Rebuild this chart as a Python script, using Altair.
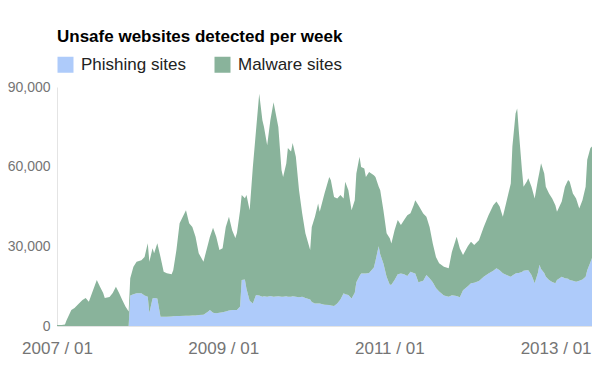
import altair as alt
import pandas as pd

# weeks since 2007-01-01
weeks = [0, 3, 5, 6, 9, 11, 13, 16, 18, 20, 22, 25, 27, 29, 30, 33, 35, 37, 39, 41, 43, 45,
         46, 48, 50, 53, 55, 57, 58, 60, 61, 63, 65, 67, 69, 72, 73, 75, 77, 81, 83, 85, 87, 89,
         92, 95, 96, 98, 100, 102, 104, 106, 108, 110, 112, 113, 115, 116, 118, 119, 121, 123,
         125, 127, 129, 130, 132, 134, 136, 139, 141, 142, 144, 145, 147, 148, 150, 152, 154,
         156, 159, 160, 162, 164, 165, 168, 171, 172, 174, 176, 178, 180, 181, 183, 185, 187,
         188, 190, 191, 193, 194, 196, 199, 200, 202, 203, 205, 207, 209, 210, 212, 214, 216,
         218, 220, 222, 224, 225, 227, 230, 232, 234, 236, 238, 240, 243, 246, 248, 251, 253,
         255, 258, 260, 262, 265, 268, 271, 274, 276, 278, 279, 280, 282, 285, 286, 288, 289,
         290, 292, 293, 295, 296, 298, 300, 302, 303, 304, 306, 307, 309, 311, 313, 314, 317,
         319, 321, 322, 324, 326, 328, 330, 332, 333, 335, 336]

phishing = [0, 0, 0, 0, 0, 0, 0, 0, 0, 0, 0, 0, 0, 0, 0, 0, 0, 0, 0, 0, 0, 0,
            11500, 12000, 12300, 12300, 11500, 11000, 4900, 10400, 10500, 10400, 3500, 3500,
            3500, 3600, 3700, 3800, 3800, 3900, 3900, 4000, 4000, 4100,
            4200, 5500, 6000, 5000, 4800, 5000, 5200, 5500, 5800, 6000, 6000, 6000, 7300, 17300,
            17500, 14000, 9500, 8500,
            11700, 11500, 11000, 11200, 11000, 11300, 11000, 11200, 11000, 11000, 11200, 11000,
            11000, 11200, 11000, 10800, 11000,
            10500, 10000, 9000, 8500, 8500, 8500, 8000, 7900, 7700, 7500, 8500, 10000, 12300,
            12000, 11700, 10400, 12500,
            16500, 18800, 19800, 19800, 19800, 20000, 22000, 24500, 30000, 27000, 23500, 18500,
            15500, 15500, 17300, 19500, 19800,
            19500, 18800, 20400, 20000, 19800, 16500, 17000, 19200, 18000, 16500, 14300, 13000,
            11500, 11000, 11600, 11300, 10800,
            13500, 15000, 16100, 16300, 16900, 18500, 19800, 20800, 21700, 21000, 20400, 19900,
            19300, 18500, 19000, 19800, 20000,
            20000, 20300, 20800, 21000, 21000, 19200, 16100, 20000, 23100, 21500, 20000, 18500,
            17300, 16600, 16100, 17300, 18500,
            18000, 17800, 17300, 17000, 16700, 17000, 17500, 18500, 21000, 24000, 25600]

malware = [400, 400, 600, 2200, 6000, 6800, 8000, 9800, 10500, 9100, 12400, 17300, 14800,
           12400, 10500, 10900, 12400, 14800, 12400, 9800, 7300, 5500,
           6500, 10300, 11900, 12500, 14500, 20200, 19300, 18900, 16900, 20800, 22500, 16900,
           16400, 15900, 17300, 24800, 34900, 39700, 34800, 33300, 29600, 23300,
           20000, 25700, 27500, 32000, 28800, 23600, 24100, 31800, 35300, 30100, 27100, 29000,
           36300, 32000, 30600, 35300, 34100, 51400,
           62000, 76000, 66500, 63700, 57100, 66200, 73300, 63700, 47700, 45100, 50000, 56000,
           54700, 57700, 52700, 40300, 31400,
           24400, 18600, 28300, 32600, 37600, 34500, 41900, 48200, 47200, 41100, 39500, 39300,
           35700, 42300, 39400, 33200, 34900,
           40900, 44900, 40100, 39500, 36300, 38000, 34800, 31600, 22500, 24100, 20100, 16400,
           17500, 15600, 18800, 20400, 18200,
           20400, 22900, 22100, 25500, 27600, 29000, 25400, 21900, 19300, 14600, 11700, 10600,
           10800, 10700, 16300, 22300, 18400,
           13200, 15000, 15600, 14200, 15400, 18800, 21900, 24700, 25200, 24000, 22600, 21200,
           26800, 35200, 48600, 60200, 61900,
           53700, 38500, 31600, 33300, 34600, 33200, 31900, 35000, 34900, 39800, 37400, 33900,
           32600, 31400, 29400, 25700, 28400,
           34400, 37200, 37000, 32900, 31300, 27200, 29900, 33900, 41600, 43000, 42000]

series_names = ["Phishing sites", "Malware sites"]
series_colors = ["#aecbfa", "#89b39b"]
y_ticks = [0, 30000, 60000, 90000]
x_tick_years = [2007, 2009, 2011, 2013]

base = pd.Timestamp("2007-01-01")
dates = [base + pd.Timedelta(days=7 * w) for w in weeks]

rows = []
for d, p, m in zip(dates, phishing, malware):
    rows.append({"date": d, "series": series_names[0], "value": p, "ord": 0})
    rows.append({"date": d, "series": series_names[1], "value": m, "ord": 1})
df = pd.DataFrame(rows)

FONT = "Liberation Sans"

chart = alt.Chart(df).mark_area(interpolate="linear", opacity=1).encode(
    x=alt.X("date:T",
            scale=alt.Scale(domain=[dates[0].isoformat(), dates[-1].isoformat()], nice=False),
            axis=alt.Axis(title=None, values=[alt.DateTime(year=y, month=1, date=1) for y in x_tick_years],
                          format="%Y / %m", labelFontSize=17, labelColor="#757575", labelFont=FONT,
                          ticks=False, tickSize=0, labelPadding=14, domainColor="#e4e4e4",
                          grid=False, labelFlush=False)),
    y=alt.Y("value:Q", stack="zero",
            scale=alt.Scale(domain=[0, 90000], nice=False),
            axis=alt.Axis(title=None, values=y_ticks, format=",d", labelFontSize=14,
                          labelColor="#757575", labelFont=FONT, ticks=False, tickSize=0,
                          labelPadding=7, domainColor="#e4e4e4", grid=False)),
    color=alt.Color("series:N",
                    scale=alt.Scale(domain=series_names, range=series_colors),
                    legend=alt.Legend(title=None, orient="none", legendX=0, legendY=-31,
                                      direction="horizontal", symbolType="square",
                                      symbolSize=256, symbolStrokeWidth=0, symbolOpacity=1,
                                      labelFontSize=17, labelFont=FONT, labelColor="#222222",
                                      columnPadding=28, labelOffset=7, padding=0)),
    order=alt.Order("ord:Q", sort="ascending"),
).properties(
    width=535,
    height=239,
    title=alt.TitleParams("Unsafe websites detected per week", anchor="start", frame="group",
                          fontSize=17, fontWeight="bold", font=FONT, color="#000000",
                          offset=10),
    padding={"left": 49, "top": 79, "right": 0, "bottom": 40},
    autosize=alt.AutoSizeParams(type="none"),
).configure_view(stroke=None)

chart.save("out.html", embed_options={"renderer": "svg", "actions": False})
